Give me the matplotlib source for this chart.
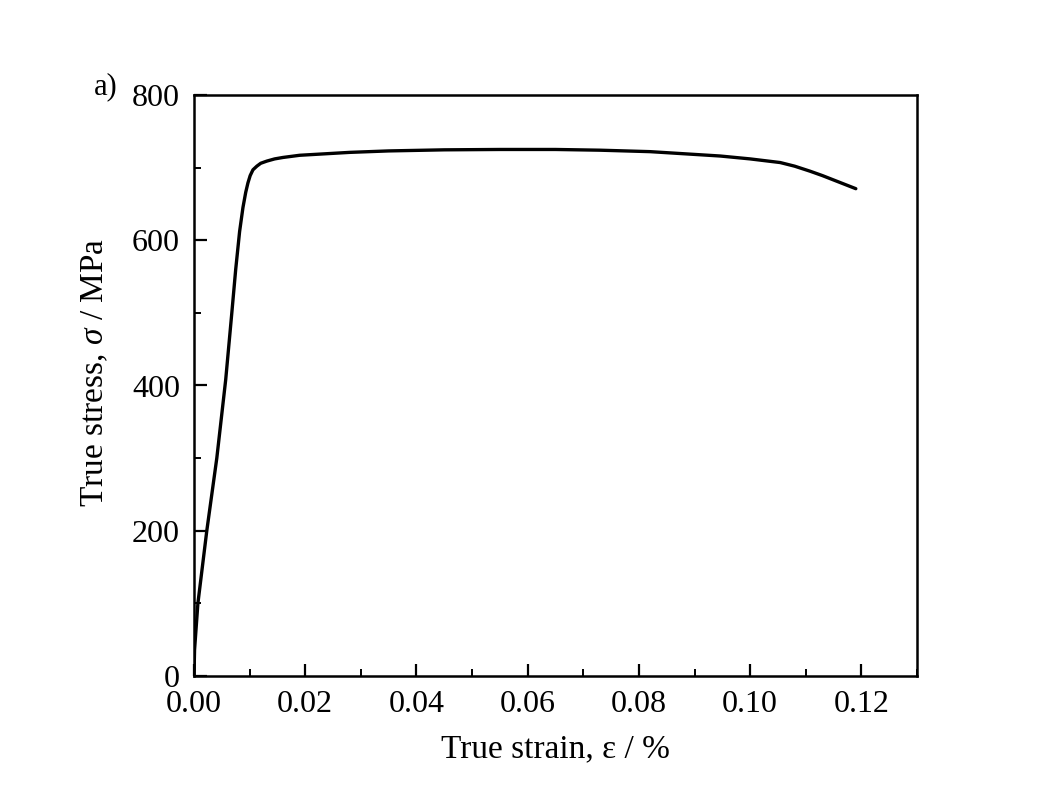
import matplotlib
matplotlib.use("Agg")
import matplotlib.pyplot as plt
from matplotlib.ticker import MultipleLocator, FormatStrFormatter

strain = [0, 0.0001, 0.0007, 0.0023, 0.0041, 0.0057, 0.0068, 0.0075, 0.0082,
          0.0088, 0.0093, 0.0097, 0.0101, 0.0106, 0.0113,
          0.0120, 0.0131, 0.0145, 0.016, 0.019, 0.028, 0.035, 0.045, 0.055,
          0.065, 0.073, 0.082, 0.0946, 0.1, 0.1054, 0.108, 0.1108, 0.113,
          0.115, 0.117, 0.119]
stress = [0, 36, 100, 200, 300, 408, 500, 560, 612, 645, 666, 679,
          689, 697, 702, 706, 709, 712, 714, 717, 721, 723, 724.5, 725, 725,
          724, 722, 716, 712, 707, 702, 695, 689, 683, 677, 671]

plt.rcParams['font.family'] = ['Liberation Serif', 'DejaVu Serif']
plt.rcParams['mathtext.fontset'] = 'custom'
plt.rcParams['mathtext.it'] = 'Liberation Serif:italic'
plt.rcParams['mathtext.rm'] = 'Liberation Serif'

fig = plt.figure(figsize=(10.51, 8.05), dpi=100)
ax = fig.add_axes([194/1051, 1 - 676/805, (917-194)/1051, (676-95)/805])

ax.plot(strain, stress, color='black', lw=2.4, solid_joinstyle='round',
        solid_capstyle='round')

ax.set_xlim(0, 0.13)
ax.set_ylim(0, 800)
ax.xaxis.set_major_locator(MultipleLocator(0.02))
ax.xaxis.set_minor_locator(MultipleLocator(0.01))
ax.yaxis.set_major_locator(MultipleLocator(200))
ax.yaxis.set_minor_locator(MultipleLocator(100))
ax.xaxis.set_major_formatter(FormatStrFormatter('%.2f'))

ax.tick_params(which='major', direction='in', length=9, width=1.6,
               labelsize=23, pad=10)
ax.tick_params(which='minor', direction='in', length=5, width=1.4)
ax.tick_params(axis='x', which='major', pad=10)
for s in ax.spines.values():
    s.set_linewidth(1.8)

ax.set_xlabel('True strain, ε / %', fontsize=24, labelpad=11)
ax.set_ylabel(r'True stress, $\mathit{\sigma}$ / MPa', fontsize=24)
ax.yaxis.set_label_coords(-0.116, 0.523)

fig.text(106/1051, 1 - 87/805, 'a)', fontsize=22, ha='center', va='center')

fig.savefig('out.png', dpi=100)
